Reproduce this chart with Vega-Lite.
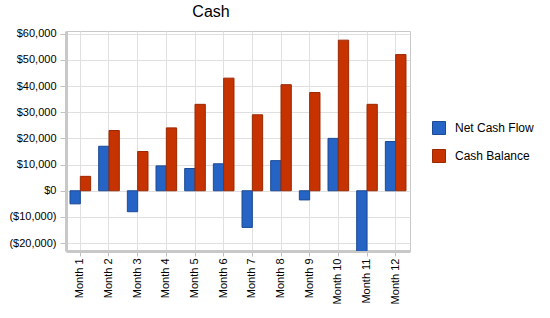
{
  "$schema": "https://vega.github.io/schema/vega-lite/v6.json",
  "autosize": {"type": "none"},
  "width": 344,
  "height": 220,
  "padding": {"left": 66, "top": 31, "right": 140, "bottom": 67},
  "background": "white",
  "title": {"text": "Cash", "fontSize": 16, "font": "Liberation Sans", "fontWeight": "normal", "color": "black", "anchor": "middle", "dx": -27, "offset": 8},
  "data": {"values": [
    {"month": "Month 1", "series": "Net Cash Flow", "value": -5000},
    {"month": "Month 1", "series": "Cash Balance", "value": 5500},
    {"month": "Month 2", "series": "Net Cash Flow", "value": 17000},
    {"month": "Month 2", "series": "Cash Balance", "value": 23000},
    {"month": "Month 3", "series": "Net Cash Flow", "value": -8000},
    {"month": "Month 3", "series": "Cash Balance", "value": 15000},
    {"month": "Month 4", "series": "Net Cash Flow", "value": 9500},
    {"month": "Month 4", "series": "Cash Balance", "value": 24000},
    {"month": "Month 5", "series": "Net Cash Flow", "value": 8500},
    {"month": "Month 5", "series": "Cash Balance", "value": 33000},
    {"month": "Month 6", "series": "Net Cash Flow", "value": 10300},
    {"month": "Month 6", "series": "Cash Balance", "value": 43000},
    {"month": "Month 7", "series": "Net Cash Flow", "value": -14000},
    {"month": "Month 7", "series": "Cash Balance", "value": 29000},
    {"month": "Month 8", "series": "Net Cash Flow", "value": 11500},
    {"month": "Month 8", "series": "Cash Balance", "value": 40500},
    {"month": "Month 9", "series": "Net Cash Flow", "value": -3500},
    {"month": "Month 9", "series": "Cash Balance", "value": 37500},
    {"month": "Month 10", "series": "Net Cash Flow", "value": 20000},
    {"month": "Month 10", "series": "Cash Balance", "value": 57500},
    {"month": "Month 11", "series": "Net Cash Flow", "value": -25000},
    {"month": "Month 11", "series": "Cash Balance", "value": 33000},
    {"month": "Month 12", "series": "Net Cash Flow", "value": 18800},
    {"month": "Month 12", "series": "Cash Balance", "value": 52000}
  ]},
  "mark": {"type": "bar", "clip": true, "strokeWidth": 1},
  "encoding": {
    "x": {
      "field": "month", "type": "nominal", "sort": null, "title": null,
      "scale": {"paddingInner": 0.28, "paddingOuter": 0.14},
      "axis": {
        "labelAngle": -90, "labelAlign": "right", "labelBaseline": "middle",
        "labelFont": "Liberation Sans", "labelFontSize": 11, "labelColor": "black",
        "labelPadding": 2,
        "domainColor": "#c8c8c8", "domainWidth": 3,
        "tickColor": "#c0c0c0", "tickSize": 5, "tickBand": "center",
        "grid": true, "gridColor": "#e0e0e0", "bandPosition": 0.5
      }
    },
    "xOffset": {"field": "series", "type": "nominal", "sort": ["Net Cash Flow", "Cash Balance"]},
    "y": {
      "field": "value", "type": "quantitative", "title": null,
      "scale": {"domain": [-23000, 61000], "nice": false, "zero": false},
      "axis": {
        "values": [-20000, -10000, 0, 10000, 20000, 30000, 40000, 50000, 60000],
        "labelExpr": "datum.value < 0 ? '(' + format(-datum.value, '$,') + ')' : format(datum.value, '$,')",
        "labelFont": "Liberation Sans", "labelFontSize": 11, "labelColor": "black",
        "labelPadding": 4,
        "domainColor": "#c8c8c8", "domainWidth": 3,
        "tickColor": "#c0c0c0", "tickSize": 6,
        "grid": true, "gridColor": "#e0e0e0"
      }
    },
    "color": {
      "field": "series", "type": "nominal", "title": null,
      "scale": {"domain": ["Net Cash Flow", "Cash Balance"], "range": ["#2563c4", "#c63300"]},
      "legend": {
        "orient": "none", "legendX": 366, "legendY": 90,
        "symbolType": "square", "symbolSize": 169, "symbolStrokeWidth": 1,
        "labelFont": "Liberation Sans", "labelFontSize": 12, "labelColor": "black",
        "labelOffset": 9, "rowPadding": 10
      }
    },
    "stroke": {
      "field": "series", "type": "nominal",
      "scale": {"domain": ["Net Cash Flow", "Cash Balance"], "range": ["#1c4a94", "#9a2800"]},
      "legend": null
    }
  },
  "config": {"view": {"stroke": "#c8c8c8"}}
}
